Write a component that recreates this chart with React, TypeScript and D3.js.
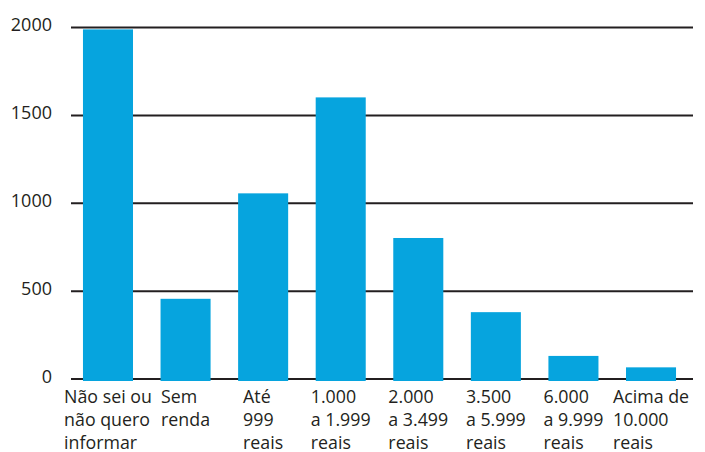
import React, { useEffect, useRef } from "react";
import * as d3 from "d3";

// Income brackets (each label split into its printed lines)
const categories: string[][] = [
  ["Não sei ou", "não quero", "informar"],
  ["Sem", "renda"],
  ["Até", "999", "reais"],
  ["1.000", "a 1.999", "reais"],
  ["2.000", "a 3.499", "reais"],
  ["3.500", "a 5.999", "reais"],
  ["6.000", "a 9.999", "reais"],
  ["Acima de", "10.000", "reais"],
];
const values: number[] = [1995, 462, 1062, 1608, 808, 386, 137, 72];
const yTicks: number[] = [0, 500, 1000, 1500, 2000];

const W = 705;
const H = 452;
const BAR = "#06a4de";
const INK = "#231f20";
const FONT = "'Open Sans', Lato, sans-serif";

export default function App() {
  const ref = useRef<SVGSVGElement | null>(null);

  useEffect(() => {
    const svg = d3.select(ref.current);
    svg.selectAll("*").remove();

    const x = d3
      .scaleBand<number>()
      .domain(d3.range(categories.length))
      .range([69.2, 689.8])
      .paddingInner(0.355)
      .paddingOuter(0.1775);

    const y = d3.scaleLinear().domain([0, 2000]).range([379, 27.5]);

    // horizontal gridlines
    svg
      .append("g")
      .selectAll("line")
      .data(yTicks)
      .join("line")
      .attr("x1", 71)
      .attr("x2", 693)
      .attr("y1", (d) => y(d))
      .attr("y2", (d) => y(d))
      .attr("stroke", INK)
      .attr("stroke-width", 2);

    // tick labels
    svg
      .append("g")
      .selectAll("text")
      .data(yTicks)
      .join("text")
      .attr("x", 52)
      .attr("y", (d) => y(d))
      .attr("dy", "0.2em")
      .attr("text-anchor", "end")
      .attr("font-family", FONT)
      .attr("font-size", 18)
      .attr("fill", INK)
      .text((d) => String(d));

    // bars
    svg
      .append("g")
      .selectAll("rect")
      .data(values)
      .join("rect")
      .attr("x", (_, i) => x(i)!)
      .attr("width", x.bandwidth())
      .attr("y", (d) => y(d) + 1)
      .attr("height", (d) => y(0) - y(d) + 1)
      .attr("fill", BAR);

    // category labels: left-aligned lines, block centred under the bar
    const lab = svg.append("g");
    categories.forEach((lines, i) => {
      const t = lab
        .append("text")
        .attr("font-family", FONT)
        .attr("font-size", 17.8)
        .attr("fill", INK);
      lines.forEach((ln, k) => {
        t.append("tspan").attr("x", 0).attr("y", 402.5 + k * 23).text(ln);
      });
      const node = t.node() as SVGTextElement;
      const wmax = d3.max(
        Array.from(node.querySelectorAll("tspan")),
        (s) => (s as SVGTextContentElement).getComputedTextLength()
      ) as number;
      const cx = x(i)! + x.bandwidth() / 2;
      t.selectAll("tspan").attr("x", Math.min(cx - wmax / 2, W - 2 - wmax));
    });
  }, []);

  return (
    <svg
      ref={ref}
      width={W}
      height={H}
      style={{ position: "absolute", left: 0, top: 0, background: "#fff" }}
    />
  );
}
